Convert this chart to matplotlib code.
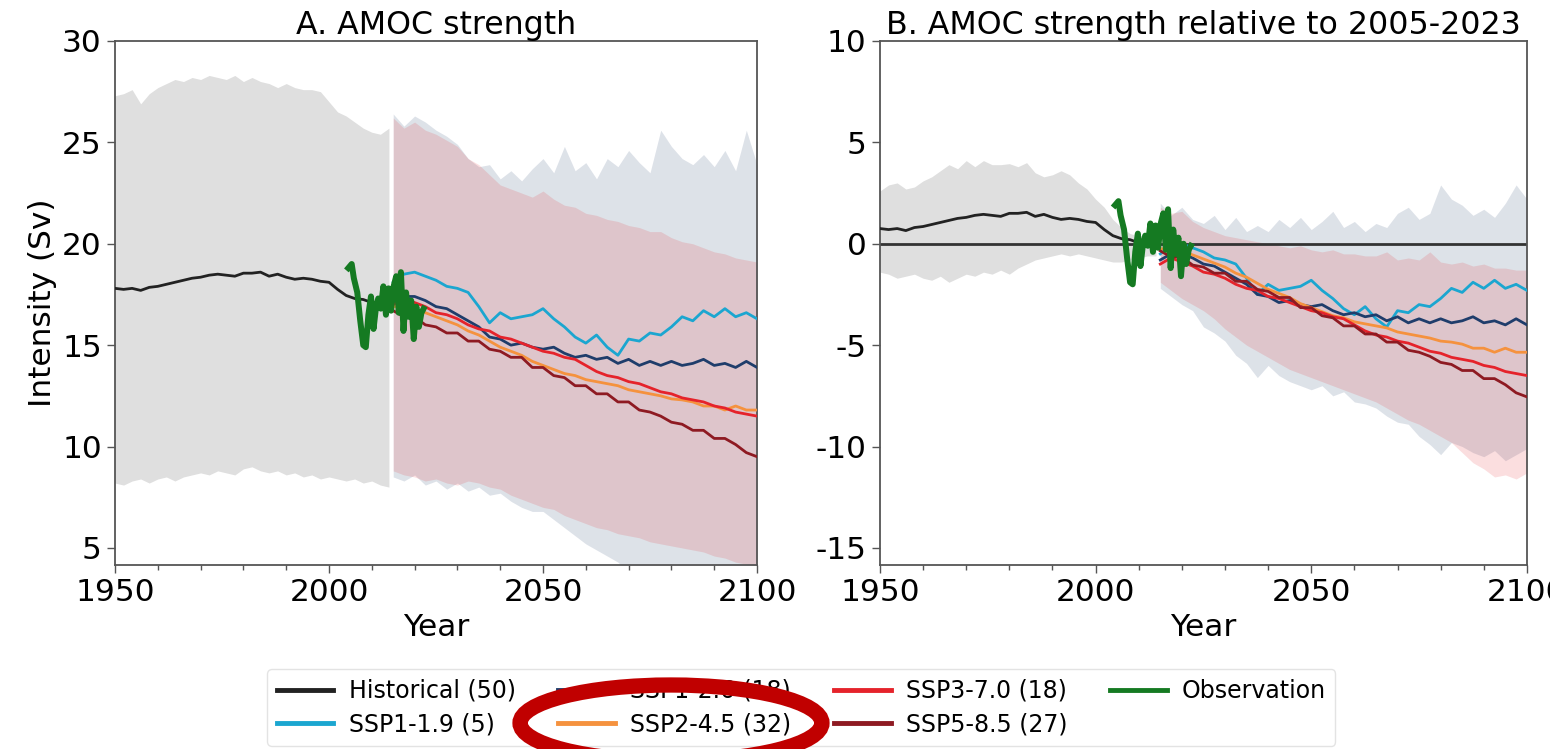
"""Two-panel AMOC strength chart: absolute and relative to 2005-2023."""

import matplotlib

matplotlib.use("Agg")

import matplotlib.pyplot as plt
import numpy as np
from matplotlib.patches import Ellipse

plt.rcParams["font.family"] = ["DejaVu Sans"]
plt.rcParams["axes.unicode_minus"] = False

# --- historical period (every 2 years) -------------------------------------
hist_years = np.arange(1950, 2015, 2)
hist_mean = [17.8, 17.75, 17.8, 17.7, 17.85, 17.9, 18.0, 18.1, 18.2, 18.3,
             18.35, 18.45, 18.5, 18.45, 18.4, 18.55, 18.55, 18.6, 18.4, 18.5,
             18.35, 18.25, 18.3, 18.25, 18.15, 18.1, 17.75, 17.45, 17.3, 17.25,
             17.1, 17.05, 16.9]
hist_upper = [27.3, 27.4, 27.6, 26.9, 27.4, 27.7, 27.9, 28.1, 28.0, 28.2,
              28.1, 28.3, 28.2, 28.1, 28.3, 28.0, 28.2, 28.0, 27.9, 27.7,
              27.9, 27.7, 27.6, 27.6, 27.5, 27.0, 26.5, 26.3, 26.0, 25.7,
              25.5, 25.4, 25.7]
hist_lower = [8.2, 8.1, 8.3, 8.4, 8.2, 8.4, 8.5, 8.3, 8.5, 8.6,
              8.7, 8.6, 8.8, 8.7, 8.6, 8.9, 9.0, 8.8, 8.7, 8.8,
              8.6, 8.7, 8.5, 8.6, 8.4, 8.5, 8.4, 8.3, 8.4, 8.2,
              8.3, 8.1, 8.0]
hist_upper_rel = [2.6, 2.9, 3.0, 2.7, 2.8, 3.1, 3.3, 3.6, 3.9, 3.7,
                  4.1, 3.8, 4.1, 3.9, 3.9, 3.95, 3.8, 4.0, 3.5, 3.3,
                  3.4, 3.6, 3.4, 3.0, 2.7, 2.2, 1.8, 1.2, 0.8, 0.5,
                  0.4, 0.4, 0.4]
hist_lower_rel = [-1.4, -1.5, -1.7, -1.6, -1.5, -1.7, -1.8, -1.6, -1.9, -1.7,
                  -1.5, -1.6, -1.4, -1.5, -1.3, -1.5, -1.2, -1.0, -0.8, -0.7,
                  -0.6, -0.5, -0.6, -0.5, -0.6, -0.7, -0.8, -0.9, -0.9, -0.8,
                  -0.7, -0.6, -0.6]

# --- scenario period (every 2.5 years) -------------------------------------
scen_years = np.arange(2015, 2100.1, 2.5)
ssp119 = [18.1, 18.5, 18.6, 18.4, 18.2, 17.9, 17.8, 17.6, 16.9, 16.1,
          16.6, 16.3, 16.4, 16.5, 16.8, 16.3, 15.9, 15.4, 15.1, 15.5,
          14.9, 14.5, 15.3, 15.2, 15.6, 15.5, 15.9, 16.4, 16.2, 16.7,
          16.4, 16.8, 16.4, 16.6, 16.3]
ssp126 = [17.1, 17.4, 17.4, 17.2, 16.9, 16.8, 16.5, 16.2, 15.9, 15.4,
          15.3, 15.0, 15.1, 14.9, 14.8, 14.9, 14.6, 14.4, 14.5, 14.3,
          14.4, 14.1, 14.3, 14.0, 14.2, 14.0, 14.2, 14.0, 14.1, 14.3,
          14.0, 14.1, 13.9, 14.2, 13.9]
ssp245 = [16.9, 16.9, 16.8, 16.6, 16.4, 16.2, 16.0, 15.7, 15.5, 15.2,
          14.9, 14.7, 14.5, 14.2, 14.0, 13.8, 13.6, 13.5, 13.3, 13.2,
          13.1, 13.0, 12.8, 12.7, 12.6, 12.5, 12.35, 12.3, 12.2, 12.0,
          12.0, 11.8, 12.0, 11.8, 11.8]
ssp370 = [17.0, 17.3, 17.1, 16.9, 16.6, 16.5, 16.3, 16.0, 15.8, 15.7,
          15.4, 15.3, 15.1, 14.9, 14.7, 14.6, 14.4, 14.3, 14.0, 13.7,
          13.5, 13.4, 13.2, 13.1, 12.9, 12.7, 12.6, 12.4, 12.3, 12.2,
          12.0, 11.9, 11.7, 11.6, 11.5]
ssp585 = [16.7, 16.4, 16.4, 16.0, 15.9, 15.6, 15.6, 15.2, 15.2, 14.8,
          14.7, 14.4, 14.4, 13.9, 13.9, 13.5, 13.4, 13.0, 13.0, 12.6,
          12.6, 12.2, 12.2, 11.8, 11.7, 11.5, 11.2, 11.1, 10.8, 10.8,
          10.4, 10.4, 10.1, 9.7, 9.5]

# spread envelopes (low-emission band in blue-grey, high-emission band in red)
low_upper = [26.4, 25.8, 26.3, 26.0, 25.6, 25.3, 24.9, 24.2, 23.8, 23.9,
             23.2, 23.6, 23.1, 23.7, 24.2, 23.5, 24.8, 23.6, 24.0, 23.2,
             24.2, 23.8, 24.6, 24.0, 23.5, 25.6, 24.8, 24.2, 23.9, 24.4,
             23.8, 24.6, 23.6, 25.6, 23.9]
low_lower = [8.5, 8.3, 8.6, 8.1, 8.3, 7.9, 8.2, 7.8, 8.0, 7.6,
             7.7, 7.3, 7.0, 6.8, 6.8, 6.4, 6.0, 5.6, 5.2, 4.9,
             4.6, 4.3, 3.8, 3.5, 3.6, 3.3, 3.2, 3.0, 3.1, 3.0,
             2.9, 3.0, 2.8, 2.9, 2.8]
high_upper = [26.2, 25.7, 26.0, 25.6, 25.4, 25.1, 24.8, 24.2, 23.9, 23.4,
              22.9, 22.7, 22.5, 22.3, 22.6, 22.2, 21.9, 21.8, 21.5, 21.4,
              21.2, 21.1, 20.9, 20.8, 20.6, 20.6, 20.3, 20.1, 20.0, 19.8,
              19.6, 19.5, 19.3, 19.2, 19.1]
high_lower = [8.8, 8.6, 8.5, 8.3, 8.4, 8.2, 8.1, 8.3, 8.2, 8.0,
              7.9, 7.6, 7.4, 7.2, 7.0, 6.9, 6.6, 6.4, 6.2, 6.0,
              5.9, 5.7, 5.6, 5.5, 5.3, 5.2, 5.1, 5.0, 4.9, 4.8,
              4.6, 4.5, 4.3, 4.2, 4.1]
low_upper_rel = [2.0, 1.4, 1.8, 1.2, 1.0, 1.4, 0.7, 1.3, 0.6, 0.9,
                 0.6, 1.2, 0.8, 1.3, 0.7, 1.1, 1.6, 0.8, 1.1, 0.6,
                 1.0, 0.8, 1.5, 1.8, 1.2, 1.5, 2.9, 2.2, 1.9, 1.4,
                 1.7, 1.3, 2.0, 2.9, 2.2]
low_lower_rel = [-2.2, -2.6, -3.0, -3.3, -4.1, -4.4, -4.8, -5.5, -5.9, -6.6,
                 -6.0, -6.5, -6.8, -7.0, -7.2, -7.0, -7.5, -7.3, -7.8, -7.9,
                 -8.1, -8.5, -8.8, -8.9, -9.5, -9.9, -10.4, -9.8, -10.0, -10.3,
                 -10.5, -10.2, -10.7, -10.4, -10.1]
high_upper_rel = [1.8, 1.5, 1.6, 1.1, 0.8, 0.6, 0.4, 0.3, 0.2, 0.1,
                  0.0, -0.1, -0.2, -0.1, -0.3, -0.4, -0.3, -0.5, -0.5, -0.6,
                  -0.6, -0.4, -0.8, -0.7, -0.8, -0.4, -0.9, -1.0, -0.9, -1.1,
                  -1.0, -1.2, -1.2, -1.3, -1.3]
high_lower_rel = [-1.9, -2.3, -2.7, -3.0, -3.3, -3.7, -4.2, -4.6, -5.0, -5.3,
                  -5.6, -5.9, -6.2, -6.4, -6.6, -6.8, -7.0, -7.2, -7.4, -7.6,
                  -7.8, -8.1, -8.4, -8.7, -8.9, -9.2, -9.5, -9.8, -10.3, -10.8,
                  -11.1, -11.5, -11.4, -11.6, -11.3]

# --- observations (RAPID array) ---------------------------------------------
obs_years = [2004.5, 2005.3, 2005.8, 2006.6, 2007.3, 2008.0, 2008.6, 2009.2,
             2009.8, 2010.4, 2011.0, 2011.5, 2012.1, 2012.7, 2013.3, 2013.9,
             2014.5, 2015.1, 2015.7, 2016.3, 2016.8, 2017.4, 2018.0, 2018.6,
             2019.2, 2019.8, 2020.4, 2021.0, 2021.6, 2022.1]
obs = [18.8, 19.0, 18.3, 17.6, 16.2, 15.0, 14.9, 16.5, 17.4, 15.8,
       16.9, 17.3, 16.8, 17.9, 16.5, 17.8, 16.7, 17.9, 18.4, 16.6,
       18.6, 15.7, 17.6, 16.4, 17.2, 15.3, 16.9, 15.9, 16.6, 16.8]

# 2005-2023 mean of each series, used for panel B
baseline = {"hist": 17.05, "ssp119": 18.6, "ssp126": 17.9, "ssp245": 17.15,
            "ssp370": 18.0, "ssp585": 17.05, "obs": 16.9}

scenarios = [
    ("ssp119", "SSP1-1.9 (5)", ssp119, "#1ba6d0"),
    ("ssp126", "SSP1-2.6 (18)", ssp126, "#1f3d6b"),
    ("ssp245", "SSP2-4.5 (32)", ssp245, "#f5923e"),
    ("ssp370", "SSP3-7.0 (18)", ssp370, "#e5232b"),
    ("ssp585", "SSP5-8.5 (27)", ssp585, "#8e1a22"),
]


def draw_panel(ax, relative):
    if relative:
        h_up, h_lo = hist_upper_rel, hist_lower_rel
        l_up, l_lo = low_upper_rel, low_lower_rel
        r_up, r_lo = high_upper_rel, high_lower_rel
    else:
        h_up, h_lo = hist_upper, hist_lower
        l_up, l_lo = low_upper, low_lower
        r_up, r_lo = high_upper, high_lower

    ax.fill_between(hist_years, h_lo, h_up, color="#808080", alpha=0.25, lw=0)
    ax.fill_between(scen_years, l_lo, l_up, color="#1f3d6b", alpha=0.15, lw=0)
    ax.fill_between(scen_years, r_lo, r_up, color="#e5232b", alpha=0.15, lw=0)

    if relative:
        ax.axhline(0, color="#333333", lw=2, zorder=2)

    shift = baseline["hist"] if relative else 0.0
    ax.plot(hist_years, np.array(hist_mean) - shift, color="#222222", lw=2,
            label="Historical (50)", zorder=3)
    for key, label, values, color in scenarios:
        shift = baseline[key] if relative else 0.0
        ax.plot(scen_years, np.array(values) - shift, color=color, lw=2,
                label=label, zorder=3)
    shift = baseline["obs"] if relative else 0.0
    ax.plot(obs_years, np.array(obs) - shift, color="#157a22", lw=4.3,
            label="Observation", zorder=4)

    ax.set_xlim(1950, 2100)
    ax.set_xticks([1950, 2000, 2050, 2100])
    ax.set_xticks(np.arange(1950, 2101, 10), minor=True)
    ax.set_xlabel("Year", fontsize=22.5)
    ax.tick_params(axis="both", which="major", labelsize=22.5, length=6,
                   width=1, color="#555555")
    ax.tick_params(axis="x", which="minor", length=3.5, width=1,
                   color="#555555")
    for spine in ax.spines.values():
        spine.set_color("#555555")
        spine.set_linewidth(1.3)


fig = plt.figure(figsize=(15.5, 7.49), dpi=100)
ax_a = fig.add_axes([0.0742, 0.2457, 0.4142, 0.6996])
ax_b = fig.add_axes([0.5677, 0.2457, 0.4174, 0.6996])

draw_panel(ax_a, relative=False)
ax_a.set_ylim(4.16, 30)
ax_a.set_yticks([5, 10, 15, 20, 25, 30])
ax_a.set_ylabel("Intensity (Sv)", fontsize=22.5)
ax_a.set_title("A. AMOC strength", fontsize=22.8, pad=5)

draw_panel(ax_b, relative=True)
ax_b.set_ylim(-15.84, 10)
ax_b.set_yticks([-15, -10, -5, 0, 5, 10])
ax_b.set_title("B. AMOC strength relative to 2005-2023", fontsize=22.8, pad=5)

handles, labels = ax_a.get_legend_handles_labels()
leg = fig.legend(handles, labels,
                 ncol=4, loc="upper center", bbox_to_anchor=(0.517, 0.122),
                 fontsize=17, frameon=True, edgecolor="#dddddd",
                 handlelength=2.4, columnspacing=1.8, handletextpad=0.65,
                 labelspacing=0.4)
for line in leg.get_lines():
    line.set_linewidth(3.5)

fig.add_artist(Ellipse((0.4329, 0.0347), 0.1948, 0.1015,
                       transform=fig.transFigure, fill=False,
                       edgecolor="#c00000", lw=11, zorder=20))

fig.savefig("out.png", dpi=100)
plt.close(fig)
